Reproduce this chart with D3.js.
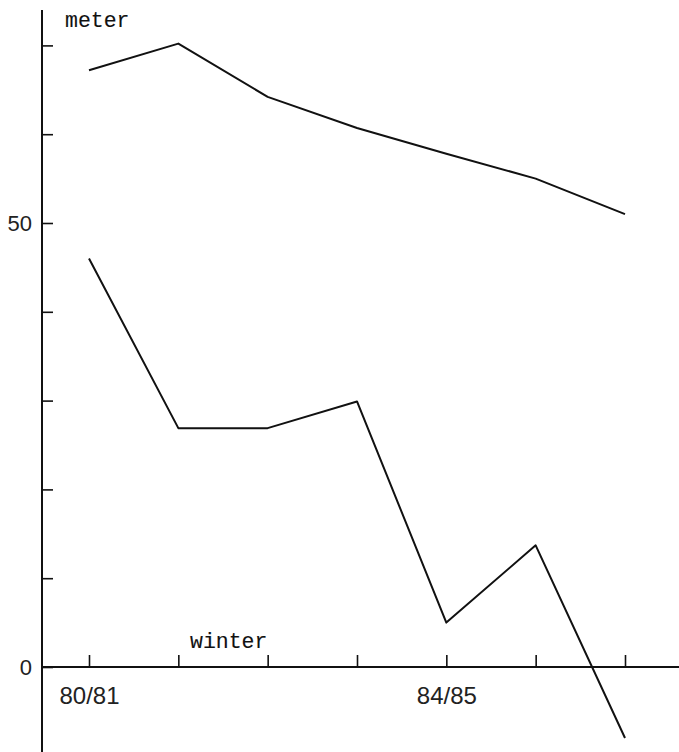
<!DOCTYPE html>
<html>
<head>
<meta charset="utf-8">
<script src="https://cdn.jsdelivr.net/npm/d3@7"></script>
<style>
  html, body { margin: 0; padding: 0; background: #fff; }
  svg { display: block; }
  .mono { font-family: "Liberation Mono", "DejaVu Sans Mono", monospace; fill: #111; stroke: #111; stroke-width: 0.12; }
  .num { font-family: "Liberation Sans", Arial, sans-serif; fill: #222; }
</style>
</head>
<body>
<svg id="chart" width="679" height="752"></svg>
<script>
// Winters along the x axis and the two measured series (meters)
const winters = ["80/81", "81/82", "82/83", "83/84", "84/85", "85/86", "86/87"];
const labelledWinters = ["80/81", "84/85"];
const upperSeries = [67.2, 70.2, 64.2, 60.7, 57.8, 55.0, 51.0];
const lowerSeries = [46.0, 26.9, 26.9, 29.9, 5.0, 13.7, -8.0];
const yTicks = [0, 10, 20, 30, 40, 50, 60, 70];
const yLabelled = [0, 50];

const width = 679, height = 752;
const axisX = 42;          // vertical axis position
const svg = d3.select("#chart");

const x = d3.scalePoint().domain(winters).range([89, 625]);
const y = d3.scaleLinear().domain([0, 50]).range([667, 223]);

// axis lines
svg.append("line")
  .attr("x1", axisX).attr("x2", axisX)
  .attr("y1", 10).attr("y2", height)
  .attr("stroke", "#111").attr("stroke-width", 2);
svg.append("line")
  .attr("x1", axisX).attr("x2", width)
  .attr("y1", y(0)).attr("y2", y(0))
  .attr("stroke", "#111").attr("stroke-width", 2);

// y ticks point inward (to the right), only 0 and 50 labelled
const yAxis = d3.axisLeft(y)
  .tickValues(yTicks)
  .tickSize(-11)
  .tickPadding(10)
  .tickFormat(d => yLabelled.includes(d) ? String(d) : "");
const gy = svg.append("g").attr("transform", `translate(${axisX},0)`).call(yAxis);
gy.select(".domain").remove();
gy.selectAll(".tick line").attr("stroke", "#111").attr("stroke-width", 1.6);
gy.selectAll(".tick text").attr("class", "num").attr("font-size", 22);

// x ticks point upward, labels below the axis
const xAxis = d3.axisBottom(x)
  .tickSize(-12)
  .tickPadding(20)
  .tickFormat(d => labelledWinters.includes(d) ? d : "");
const gx = svg.append("g").attr("transform", `translate(0,${y(0)})`).call(xAxis);
gx.select(".domain").remove();
gx.selectAll(".tick line").attr("stroke", "#111").attr("stroke-width", 1.6);
gx.selectAll(".tick text").attr("class", "num").attr("font-size", 24);

// series lines
const line = d3.line()
  .x((d, i) => x(winters[i]))
  .y(d => y(d));
[upperSeries, lowerSeries].forEach(s => {
  svg.append("path")
    .datum(s)
    .attr("d", line)
    .attr("fill", "none")
    .attr("stroke", "#111")
    .attr("stroke-width", 2)
    .attr("stroke-linejoin", "round");
});

// axis titles
svg.append("text").attr("class", "mono")
  .attr("x", 65).attr("y", 27).attr("font-size", 21.5).text("meter");
svg.append("text").attr("class", "mono")
  .attr("x", 190).attr("y", 648).attr("font-size", 21.5).text("winter");
</script>
</body>
</html>
